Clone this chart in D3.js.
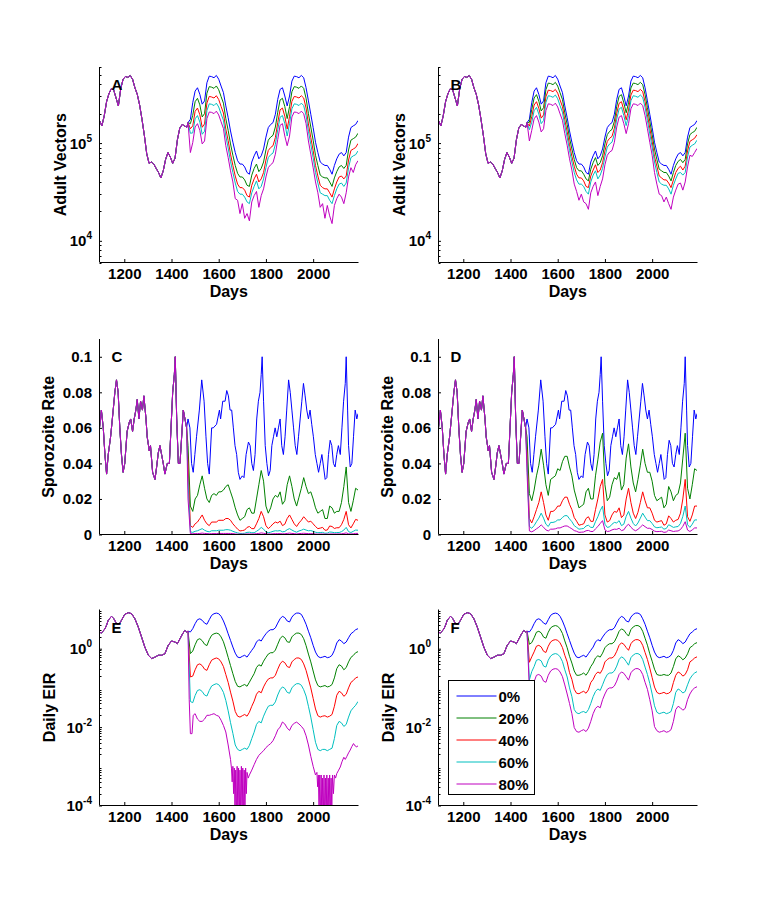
<!DOCTYPE html>
<html lang="en">
<head>
<meta charset="UTF-8">
<script src="https://d3js.org/d3.v7.min.js"></script>
<title>Vectors, sporozoite rate and EIR</title>
<style>
  body { margin: 0; background: #fff; }
</style>
</head>
<body>
<svg id="fig" width="769" height="904"></svg>
<script>
const FONT = '"Liberation Sans", Arial, Helvetica, sans-serif';

const seriesNames = ["0%", "20%", "40%", "60%", "80%"];
const seriesColors = ["#0000ff", "#008000", "#ff0000", "#00bfbf", "#bf00bf"];
const dayDomain = [1095, 2190];
const dayTicks = [1200, 1400, 1600, 1800, 2000];
const postDays = d3.range(1470, 2191, 10);

// ---- adult vectors (thousands) ----
const preDaysVectors = d3.range(1095, 1466, 10);
const preVectors = [170,150,190,265,320,360,350,290,240,360, 450,480,470,490,450,368,315,245,175,120,
  78,62,64,61,55,50,44,52,68,80, 72,62,70,108,142,155,150,145];
const blueVectors = [162,175,259,340,368,315,250,270,414,484, 478,466,492,450,383,328,240,182,133,102,
  80,66,61,61,57,50,48,64,74,83, 69,74,87,115,144,155,162,197,280,354,
  368,303,240,303,430,484,478,466,492,466, 368,270,197,144,102,80,64,61,59,59,
  54,48,59,69,77,80,74,80,115,144, 150,155,170];
const greenVectorsA = [162,158,192,265,287,246,185,200,323,378, 373,363,384,351,299,256,178,135,98,75,
  59,49,45,45,42,37,36,47,55,61, 51,55,64,85,107,115,120,146,207,276,
  287,236,178,236,335,378,373,363,384,363, 287,200,146,107,75,59,47,45,44,44,
  40,36,44,51,57,59,55,59,85,107, 111,115,126];
const redVectorsA = [162,140,150,211,228,195,145,157,257,300, 296,289,305,279,237,203,139,106,77,59,
  46,38,35,35,33,29,28,37,43,48, 40,43,50,67,84,90,94,114,162,219,
  228,188,139,188,267,300,296,289,305,289, 228,157,114,84,59,46,37,35,34,34,
  31,28,34,40,45,46,43,46,67,84, 87,90,99];
const cyanVectorsA = [162,126,127,177,191,164,123,132,215,252, 249,242,256,234,199,171,118,89,65,50,
  39,32,30,30,28,25,24,31,36,41, 34,36,43,56,71,76,79,97,137,184,
  191,158,118,158,224,252,249,242,256,242, 191,132,97,71,50,39,31,30,29,29,
  26,24,29,34,38,39,36,39,56,71, 74,76,83];
const magentaVectorsA = [162,80,101,146,158,135,98,105,178,208, 206,200,212,194,165,141,94,71,52,40,
  27,26,19,24,17,19,16,25,29,32, 22,29,34,45,56,60,63,77,109,152,
  158,118,94,118,185,208,206,200,212,200, 158,105,77,56,40,31,22,24,17,23,
  18,15,23,27,30,28,24,31,45,56, 50,60,66];
const greenVectorsB = [162,163,220,289,313,268,213,230,352,411, 406,396,418,383,326,279,204,155,113,87,
  68,56,52,52,48,43,41,54,63,71, 59,63,74,98,122,132,138,167,238,301,
  313,258,204,258,366,411,406,396,418,396, 313,230,167,122,87,68,54,52,50,50,
  46,41,50,59,65,68,63,68,98,122, 128,132,145];
const redVectorsB = [162,149,186,245,265,227,180,194,298,348, 344,336,354,324,276,236,173,131,96,73,
  58,48,44,44,41,36,35,46,53,60, 50,53,63,83,104,112,117,142,202,255,
  265,218,173,218,310,348,344,336,354,336, 265,194,142,104,73,58,46,44,42,42,
  39,35,42,50,55,58,53,58,83,104, 108,112,122];
const cyanVectorsB = [162,137,163,214,232,198,158,170,261,305, 301,294,310,284,241,207,151,115,84,64,
  50,42,38,38,36,32,30,40,47,52, 43,47,55,72,91,98,102,124,176,223,
  232,191,151,191,271,305,301,294,310,294, 232,170,124,91,64,50,40,38,37,37,
  34,30,37,43,49,50,47,50,72,91, 95,98,107];
const magentaVectorsB = [162,105,135,177,191,164,130,140,215,252, 249,242,256,234,199,171,125,95,69,53,
  38,32,26,30,25,24,21,31,36,40, 29,36,43,60,75,81,84,102,146,184,
  191,158,125,158,224,252,249,242,256,242, 191,140,102,75,50,38,30,29,25,28,
  24,21,28,33,38,39,33,40,57,75, 73,80,88];

// ---- sporozoite rate ----
const preRate = [[1095,0.060],[1103,0.070],[1111,0.060],[1118,0.045],[1125,0.034],[1132,0.045],[1142,0.055],
  [1153,0.070],[1160,0.080],[1167,0.087],[1174,0.080],[1181,0.060],[1188,0.045],[1195,0.035],[1202,0.040],
  [1212,0.058],[1221,0.063],[1227,0.065],[1235,0.058],[1242,0.065],[1249,0.070],[1255,0.076],[1262,0.065],
  [1269,0.075],[1277,0.070],[1283,0.078],[1292,0.065],[1297,0.055],[1306,0.047],[1311,0.050],[1320,0.035],
  [1330,0.031],[1337,0.038],[1344,0.046],[1351,0.050],[1358,0.045],[1365,0.040],[1372,0.034],[1382,0.040],
  [1391,0.040],[1398,0.060],[1405,0.080],[1412,0.090],[1416,0.100],[1422,0.065],[1429,0.040],[1436,0.040],
  [1443,0.055],[1450,0.070],[1457,0.065],[1464,0.060]];
const blueRate = [[1470,0.065],[1478,0.06],[1485,0.04],[1492,0.035],[1499,0.045],[1506,0.055],[1518,0.07],
  [1528,0.087],[1538,0.075],[1546,0.055],[1553,0.04],[1560,0.034],[1570,0.06],[1577,0.06],[1591,0.062],
  [1603,0.07],[1608,0.065],[1617,0.075],[1627,0.075],[1634,0.081],[1641,0.078],[1648,0.07],[1655,0.07],
  [1662,0.06],[1669,0.05],[1676,0.045],[1683,0.035],[1690,0.031],[1700,0.033],[1707,0.032],[1716,0.045],
  [1726,0.052],[1733,0.05],[1740,0.04],[1747,0.036],[1754,0.045],[1761,0.065],[1768,0.075],[1775,0.08],
  [1780,0.09],[1784,0.1],[1790,0.075],[1797,0.05],[1804,0.04],[1811,0.033],[1818,0.036],[1825,0.05],
  [1832,0.055],[1839,0.06],[1846,0.055],[1853,0.06],[1860,0.065],[1867,0.05],[1874,0.045],[1881,0.055],
  [1888,0.07],[1896,0.087],[1903,0.08],[1910,0.07],[1917,0.06],[1924,0.05],[1931,0.045],[1938,0.055],
  [1945,0.065],[1952,0.075],[1959,0.085],[1966,0.078],[1973,0.07],[1980,0.065],[1987,0.07],[1994,0.062],
  [2001,0.055],[2009,0.045],[2016,0.04],[2023,0.035],[2030,0.04],[2037,0.045],[2044,0.038],[2051,0.031],
  [2058,0.032],[2065,0.045],[2072,0.053],[2079,0.05],[2086,0.04],[2093,0.038],[2100,0.045],[2107,0.05],
  [2115,0.045],[2122,0.06],[2129,0.075],[2136,0.085],[2140,0.1],[2146,0.07],[2150,0.05],[2157,0.038],
  [2164,0.04],[2171,0.055],[2178,0.07],[2185,0.065],[2190,0.068]];
const greenRateC = [0.05,0.016,0.013,0.02,0.022,0.028,0.033,0.026,0.02,0.018,
  0.022,0.023,0.022,0.024,0.024,0.025,0.027,0.028,0.024,0.02,
  0.015,0.011,0.008,0.009,0.01,0.014,0.015,0.012,0.012,0.02,
  0.028,0.036,0.03,0.016,0.012,0.015,0.02,0.022,0.021,0.024,
  0.017,0.019,0.028,0.033,0.027,0.02,0.016,0.021,0.026,0.032,
  0.027,0.023,0.024,0.02,0.015,0.012,0.013,0.014,0.009,0.009,
  0.016,0.015,0.012,0.013,0.013,0.018,0.027,0.038,0.018,0.013,
  0.019,0.026,0.025];
const redRateC = [0.04,0.005,0.004,0.006,0.007,0.009,0.011,0.008,0.006,0.005,
  0.007,0.007,0.007,0.008,0.008,0.008,0.009,0.009,0.008,0.006,
  0.0045,0.003,0.002,0.0022,0.0025,0.004,0.0045,0.0033,0.0033,0.006,
  0.009,0.013,0.01,0.005,0.0033,0.0045,0.006,0.007,0.0065,0.0075,
  0.005,0.0058,0.009,0.011,0.0085,0.006,0.0045,0.0065,0.008,0.01,
  0.0085,0.007,0.0075,0.006,0.0045,0.0033,0.0036,0.004,0.0024,0.0025,
  0.0048,0.0045,0.0034,0.0038,0.0038,0.0055,0.0085,0.013,0.0055,0.0037,
  0.006,0.0085,0.008];
const cyanRateC = [0.03,0.0015,0.0012,0.0018,0.0021,0.0027,0.0033,0.0024,0.0018,0.0015,
  0.0021,0.0021,0.0021,0.0024,0.0024,0.0024,0.0027,0.0027,0.0024,0.0018,
  0.0013,0.0009,0.0006,0.0006,0.0007,0.0012,0.0013,0.001,0.001,0.0018,
  0.0027,0.004,0.003,0.0015,0.001,0.0013,0.0018,0.0021,0.002,0.0022,
  0.0015,0.0017,0.0027,0.0033,0.0025,0.0018,0.0013,0.002,0.0024,0.003,
  0.0025,0.0021,0.0022,0.0018,0.0013,0.001,0.0011,0.0012,0.0007,0.0008,
  0.0014,0.0013,0.001,0.0011,0.0011,0.0016,0.0025,0.004,0.0016,0.0011,
  0.0018,0.0025,0.0024];
const magentaRateC = [0.02,0.0005,0.0004,0.0005,0.0005,0.0006,0.0008,0.0006,0.0005,0.0004,
  0.0005,0.0005,0.0005,0.0006,0.0006,0.0006,0.0006,0.0006,0.0006,0.0005,
  0.0003,0.0002,0.0002,0.0002,0.0002,0.0003,0.0003,0.0003,0.0003,0.0005,
  0.0006,0.0009,0.0007,0.0004,0.0003,0.0003,0.0004,0.0005,0.0005,0.0005,
  0.0004,0.0004,0.0006,0.0008,0.0006,0.0005,0.0003,0.0005,0.0006,0.0007,
  0.0006,0.0005,0.0005,0.0004,0.0003,0.0002,0.0003,0.0003,0.0002,0.0002,
  0.0003,0.0003,0.0003,0.0003,0.0003,0.0004,0.0006,0.0009,0.0004,0.0003,
  0.0004,0.0006,0.0006];
const greenRateD = [0.055,0.023,0.019,0.025,0.033,0.039,0.048,0.039,0.028,0.022,
  0.031,0.032,0.033,0.037,0.036,0.041,0.044,0.044,0.038,0.033,
  0.025,0.02,0.015,0.016,0.017,0.024,0.026,0.02,0.02,0.033,
  0.042,0.052,0.057,0.028,0.019,0.021,0.028,0.032,0.031,0.035,
  0.025,0.028,0.043,0.051,0.038,0.029,0.024,0.031,0.039,0.048,
  0.04,0.035,0.035,0.03,0.022,0.019,0.02,0.021,0.015,0.017,
  0.027,0.024,0.019,0.022,0.023,0.029,0.043,0.057,0.026,0.02,
  0.028,0.037,0.036];
const redRateD = [0.045,0.009,0.0065,0.01,0.014,0.018,0.024,0.018,0.011,0.008,
  0.013,0.013,0.014,0.016,0.016,0.019,0.021,0.021,0.017,0.014,
  0.0095,0.0075,0.0052,0.0056,0.006,0.009,0.01,0.0074,0.0074,0.014,
  0.02,0.027,0.031,0.011,0.007,0.0078,0.011,0.013,0.0125,0.015,
  0.0095,0.011,0.02,0.026,0.018,0.012,0.009,0.0125,0.018,0.024,
  0.019,0.015,0.015,0.012,0.008,0.007,0.0074,0.0078,0.0052,0.006,
  0.0105,0.009,0.007,0.008,0.0085,0.012,0.02,0.031,0.01,0.0074,
  0.011,0.016,0.016];
const cyanRateD = [0.04,0.0045,0.0035,0.005,0.0072,0.0092,0.012,0.0092,0.0058,0.0045,
  0.0068,0.0068,0.0072,0.0082,0.0082,0.0096,0.0106,0.0106,0.0088,0.0072,
  0.005,0.004,0.003,0.0032,0.0034,0.0048,0.0052,0.004,0.004,0.0072,
  0.01,0.0135,0.016,0.0058,0.004,0.0043,0.0058,0.0068,0.0065,0.0078,
  0.005,0.0058,0.0102,0.013,0.0092,0.0062,0.0048,0.0065,0.0092,0.012,
  0.0098,0.0078,0.0078,0.0062,0.0043,0.0038,0.004,0.0042,0.003,0.0034,
  0.0055,0.0048,0.004,0.0043,0.0045,0.0062,0.0102,0.016,0.0055,0.004,
  0.0058,0.0082,0.0082];
const magentaRateD = [0.035,0.002,0.0015,0.0022,0.0032,0.0041,0.0054,0.0041,0.0026,0.002,
  0.003,0.003,0.0032,0.0037,0.0037,0.0043,0.0048,0.0048,0.004,0.0032,
  0.0022,0.0018,0.0012,0.0013,0.0014,0.0021,0.0023,0.0017,0.0017,0.0032,
  0.0045,0.0062,0.0078,0.0026,0.0017,0.0019,0.0026,0.003,0.0029,0.0035,
  0.0022,0.0026,0.0046,0.0058,0.0041,0.0028,0.0021,0.0029,0.0041,0.0054,
  0.0044,0.0035,0.0035,0.0028,0.0019,0.0016,0.0017,0.0018,0.0012,0.0014,
  0.0025,0.0021,0.0017,0.0019,0.002,0.0028,0.0046,0.0072,0.0025,0.0017,
  0.0026,0.0037,0.0037];

// ---- daily EIR ----
const preEIR = [[1095,2.67],[1103,2.5],[1110,2.8],[1118,3.2],[1125,4.0],[1132,5.3],[1139,6.0],[1146,6.7],
  [1156,5.8],[1167,4.35],[1178,4.2],[1188,5.3],[1202,7.5],[1217,8.3],[1231,7.8],[1245,5.8],[1259,3.6],
  [1273,2.0],[1287,1.1],[1302,0.68],[1316,0.56],[1330,0.61],[1344,0.68],[1358,0.68],[1372,0.745],
  [1386,1.22],[1400,1.57],[1415,1.48],[1425,1.34],[1436,1.8],[1447,2.4],[1457,2.94],[1464,2.67]];
const blueEIR = [2.8,2.67,3.24,4.35,5.5,5.8,5.3,4.5,4.2,5.5,
  7.1,7.8,8.1,7.8,6.7,5.1,3.6,2.4,1.63,1.1,
  0.77,0.61,0.59,0.64,0.68,0.61,0.745,0.91,1.1,1.48,
  1.7,1.57,1.98,2.4,2.8,3.05,3.05,3.4,4.5,5.8,
  6.7,6.2,5.1,4.8,6.4,7.5,8.1,8.1,7.5,5.8,
  4.2,2.8,1.9,1.22,0.82,0.64,0.59,0.61,0.64,0.59,
  0.61,0.68,0.91,1.4,1.7,1.57,1.34,1.48,1.9,2.4,
  2.67,3.05,3.24];
const greenEIR_E = [2.8,0.75,0.87,1.26,1.7,1.8,1.6,1.3,1.2,1.7,
  2.2,2.4,2.5,2.4,2.0,1.5,0.97,0.6,0.37,0.23,
  0.146,0.11,0.106,0.115,0.122,0.11,0.14,0.18,0.23,0.33,
  0.39,0.36,0.48,0.6,0.73,0.79,0.79,0.92,1.3,1.8,
  2.1,1.9,1.5,1.45,2.0,2.3,2.5,2.5,2.3,1.8,
  1.2,0.73,0.46,0.27,0.16,0.115,0.106,0.11,0.115,0.106,
  0.11,0.122,0.18,0.31,0.39,0.36,0.29,0.33,0.46,0.6,
  0.67,0.79,0.84];
const redEIR_E = [2.8,0.19,0.2,0.29,0.39,0.41,0.37,0.3,0.28,0.39,
  0.51,0.55,0.58,0.55,0.46,0.35,0.22,0.138,0.078,0.046,
  0.025,0.019,0.018,0.0195,0.021,0.019,0.024,0.034,0.046,0.069,
  0.082,0.075,0.106,0.138,0.168,0.18,0.18,0.21,0.3,0.41,
  0.48,0.44,0.35,0.33,0.46,0.53,0.58,0.58,0.53,0.41,
  0.28,0.168,0.1,0.054,0.029,0.0195,0.018,0.019,0.0195,0.018,
  0.019,0.021,0.034,0.065,0.082,0.075,0.061,0.069,0.1,0.138,
  0.154,0.18,0.19];
const cyanEIR_E = [2.8,0.045,0.042,0.064,0.086,0.09,0.081,0.066,0.062,0.086,
  0.112,0.121,0.128,0.121,0.1,0.077,0.048,0.026,0.013,0.0069,
  0.0035,0.0027,0.0025,0.0027,0.0029,0.0027,0.0034,0.0051,0.0074,0.0117,
  0.014,0.0128,0.019,0.026,0.034,0.036,0.036,0.044,0.066,0.09,
  0.106,0.097,0.077,0.073,0.1,0.117,0.128,0.128,0.117,0.09,
  0.062,0.034,0.018,0.0086,0.0041,0.0027,0.0025,0.0027,0.0027,0.0025,
  0.0027,0.0029,0.0051,0.011,0.014,0.0128,0.0104,0.0117,0.018,0.026,
  0.031,0.036,0.045];
const magentaEIR_E = [[1470,2.8],[1475,0.05],[1480,0.0068],[1487,0.0068],[1492,0.02],[1500,0.022],[1510,0.016],
  [1520,0.014],[1530,0.014],[1540,0.016],[1550,0.02],[1560,0.02],[1570,0.021],[1580,0.022],[1590,0.02],
  [1600,0.019],[1610,0.015],[1620,0.011],[1630,0.0075],[1640,0.0035],[1650,0.0015],[1654,0.0009],
  [1657,0.0004],[1660,0.001],[1663,0.0002],[1666,0.0009],[1669,0.00006],[1672,0.0008],[1675,0.00004],
  [1678,0.001],[1681,0.00005],[1684,0.0009],[1687,0.00003],[1690,0.0008],[1693,0.00004],[1696,0.001],
  [1699,0.00005],[1702,0.0009],[1705,0.00004],[1708,0.0008],[1711,0.00006],[1714,0.0009],[1717,0.0002],
  [1720,0.0007],[1725,0.0005],[1730,0.0006],[1740,0.0008],[1750,0.0011],[1760,0.0015],[1770,0.0019],
  [1780,0.0022],[1790,0.0025],[1800,0.003],[1810,0.0034],[1820,0.0038],[1830,0.0045],[1840,0.006],
  [1850,0.0085],[1860,0.01],[1870,0.0135],[1880,0.012],[1890,0.0095],[1900,0.0082],[1910,0.011],
  [1920,0.0125],[1930,0.0134],[1940,0.012],[1950,0.0105],[1960,0.0088],[1970,0.006],[1980,0.0035],
  [1990,0.0018],[2000,0.001],[2010,0.0006],[2016,0.0007],[2019,0.0003],[2022,0.0006],[2025,0.00008],
  [2028,0.0006],[2031,0.00004],[2034,0.0006],[2037,0.00003],[2040,0.0005],[2043,0.00004],[2046,0.0006],
  [2049,0.00003],[2052,0.0005],[2055,0.00004],[2058,0.0006],[2061,0.00005],[2064,0.0005],[2067,0.00004],
  [2070,0.0006],[2073,0.00005],[2076,0.0005],[2079,0.00008],[2082,0.0006],[2086,0.0002],[2090,0.0006],
  [2095,0.0005],[2100,0.00065],[2108,0.0008],[2115,0.00096],[2122,0.0013],[2130,0.0017],[2136,0.0015],
  [2143,0.0018],[2150,0.0022],[2157,0.0026],[2164,0.0032],[2171,0.0038],[2178,0.0033],[2185,0.0031],
  [2190,0.0034]];
const greenEIR_F = [2.8,1.3,1.43,1.9,2.64,2.78,2.54,1.98,1.85,2.64,
  3.4,3.74,3.89,3.74,3.2,2.45,1.58,1.06,0.64,0.43,
  0.27,0.21,0.21,0.22,0.24,0.21,0.26,0.35,0.43,0.58,
  0.66,0.61,0.77,1.06,1.23,1.34,1.34,1.5,1.98,2.78,
  3.2,2.98,2.45,2.1,3.07,3.6,3.89,3.89,3.6,2.78,
  1.85,1.23,0.74,0.48,0.3,0.22,0.21,0.21,0.22,0.21,
  0.21,0.24,0.35,0.55,0.66,0.61,0.52,0.58,0.74,1.06,
  1.17,1.34,1.43];
const redEIR_F = [2.8,0.45,0.62,0.83,1.16,1.22,1.11,0.86,0.8,1.16,
  1.49,1.64,1.7,1.64,1.41,1.07,0.68,0.46,0.245,0.165,
  0.092,0.073,0.071,0.077,0.082,0.073,0.089,0.137,0.165,0.22,
  0.255,0.235,0.3,0.46,0.53,0.58,0.58,0.65,0.86,1.22,
  1.41,1.3,1.07,0.91,1.34,1.58,1.7,1.7,1.58,1.22,
  0.8,0.53,0.32,0.183,0.105,0.077,0.071,0.073,0.077,0.071,
  0.073,0.082,0.137,0.21,0.255,0.235,0.2,0.22,0.29,0.46,
  0.51,0.58,0.62];
const cyanEIR_F = [2.8,0.16,0.26,0.35,0.51,0.53,0.49,0.36,0.34,0.51,
  0.65,0.72,0.75,0.72,0.62,0.47,0.29,0.19,0.1,0.06,
  0.028,0.023,0.022,0.024,0.025,0.023,0.028,0.04,0.06,0.081,
  0.094,0.086,0.12,0.17,0.22,0.24,0.24,0.27,0.36,0.53,
  0.62,0.57,0.47,0.38,0.59,0.69,0.75,0.75,0.69,0.53,
  0.34,0.22,0.13,0.07,0.035,0.024,0.022,0.023,0.024,0.022,
  0.023,0.025,0.04,0.077,0.094,0.086,0.074,0.081,0.12,0.17,
  0.21,0.24,0.26];
const magentaEIR_F = [2.8,0.09,0.107,0.144,0.21,0.22,0.2,0.149,0.139,0.21,
  0.27,0.3,0.31,0.3,0.255,0.194,0.119,0.07,0.04,0.022,
  0.0097,0.0077,0.0074,0.0081,0.0086,0.0077,0.0094,0.014,0.022,0.03,
  0.034,0.031,0.05,0.07,0.092,0.1,0.1,0.112,0.149,0.22,
  0.255,0.236,0.194,0.158,0.243,0.285,0.31,0.31,0.285,0.22,
  0.139,0.092,0.05,0.026,0.0103,0.0081,0.0074,0.0077,0.0081,0.0074,
  0.0077,0.0086,0.014,0.028,0.034,0.031,0.027,0.03,0.05,0.07,
  0.088,0.1,0.107];

const pairs = (days, vals) => days.map((d, i) => [d, vals[i]]);
const onGrid = vals => pairs(postDays, vals);

const rowSpecs = [
  { label: "Adult Vectors", log: true, domain: [6e3, 6e5], ticks: [1e4, 1e5], unit: 1000, labelGap: 34 },
  { label: "Sporozoite Rate", log: false, domain: [0, 0.11], ticks: [0, 0.02, 0.04, 0.06, 0.08, 0.1], unit: 1, labelGap: 46 },
  { label: "Daily EIR", log: true, domain: [1e-4, 10], ticks: [1e-4, 1e-2, 1], unit: 1, labelGap: 44.5 }
];

const preVectorPairs = pairs(preDaysVectors, preVectors);
const panels = [
  { tag: "A", row: 0, col: 0, pre: preVectorPairs,
    series: [onGrid(blueVectors), onGrid(greenVectorsA), onGrid(redVectorsA), onGrid(cyanVectorsA), onGrid(magentaVectorsA)] },
  { tag: "B", row: 0, col: 1, pre: preVectorPairs,
    series: [onGrid(blueVectors), onGrid(greenVectorsB), onGrid(redVectorsB), onGrid(cyanVectorsB), onGrid(magentaVectorsB)] },
  { tag: "C", row: 1, col: 0, pre: preRate,
    series: [blueRate, onGrid(greenRateC), onGrid(redRateC), onGrid(cyanRateC), onGrid(magentaRateC)] },
  { tag: "D", row: 1, col: 1, pre: preRate,
    series: [blueRate, onGrid(greenRateD), onGrid(redRateD), onGrid(cyanRateD), onGrid(magentaRateD)] },
  { tag: "E", row: 2, col: 0, pre: preEIR,
    series: [onGrid(blueEIR), onGrid(greenEIR_E), onGrid(redEIR_E), onGrid(cyanEIR_E), magentaEIR_E] },
  { tag: "F", row: 2, col: 1, pre: preEIR, legend: true,
    series: [onGrid(blueEIR), onGrid(greenEIR_F), onGrid(redEIR_F), onGrid(cyanEIR_F), onGrid(magentaEIR_F)] }
];

const svg = d3.select("#fig");
svg.append("rect").attr("width", 769).attr("height", 904).attr("fill", "#fff");

const colX = [99, 438];
const axW = 258.5;
const rowY = [[67, 262], [339, 534], [609.5, 805]];
const fs = 15;      // tick labels, legend
const fsLab = 16;   // axis labels

panels.forEach(p => {
  const spec = rowSpecs[p.row];
  const x0 = colX[p.col] + 0.5, x1 = x0 + axW;
  const [y0, y1] = rowY[p.row];
  const yb = y1 + 0.5;

  const x = d3.scaleLinear().domain(dayDomain).range([x0, x1]);
  const y = (spec.log ? d3.scaleLog() : d3.scaleLinear()).domain(spec.domain).range([yb, y0]);

  const g = svg.append("g");
  const clipId = "clip" + p.tag;
  svg.append("clipPath").attr("id", clipId)
    .append("rect").attr("x", x0).attr("y", y0).attr("width", x1 - x0).attr("height", yb - y0);

  const line = d3.line().x(d => x(d[0])).y(d => y(d[1] * spec.unit));
  p.series.forEach((s, i) => {
    g.append("path")
      .datum(p.pre.concat(s))
      .attr("clip-path", "url(#" + clipId + ")")
      .attr("fill", "none")
      .attr("stroke", seriesColors[i])
      .attr("stroke-width", 1)
      .attr("stroke-linejoin", "round")
      .attr("d", line);
  });

  // bottom axis
  const gx = g.append("g")
    .attr("transform", "translate(0," + y1 + ")")
    .call(d3.axisBottom(x).tickValues(dayTicks).tickFormat(d => d)
      .tickSizeInner(-3).tickSizeOuter(0).tickPadding(6));
  gx.attr("font-family", FONT).attr("font-size", fs).attr("font-weight", "bold");

  // left axis
  const yAxis = d3.axisLeft(y).tickValues(spec.ticks).tickSizeInner(-3).tickSizeOuter(0).tickPadding(7);
  yAxis.tickFormat(spec.log ? () => "" : d => d);
  const gy = g.append("g")
    .attr("transform", "translate(" + colX[p.col] + ",0)")
    .call(yAxis);
  gy.attr("font-family", FONT).attr("font-size", fs).attr("font-weight", "bold");
  gy.select(".domain").attr("d", "M0.5," + yb + "V" + y0);

  if (spec.log) {
    gy.selectAll(".tick").each(function(d) {
      const t = d3.select(this).append("text")
        .attr("x", -7).attr("y", 5).attr("fill", "#000").attr("text-anchor", "end");
      t.append("tspan").text("10");
      t.append("tspan").attr("dy", -7).attr("font-size", 10).text(Math.round(Math.log10(d)));
    });
    // minor ticks
    const lo = Math.floor(Math.log10(spec.domain[0])), hi = Math.ceil(Math.log10(spec.domain[1]));
    const minor = [];
    for (let e = lo; e < hi; e++) {
      for (let k = 2; k <= 9; k++) {
        const v = k * Math.pow(10, e);
        if (v >= spec.domain[0] && v <= spec.domain[1]) minor.push(v);
      }
    }
    g.selectAll(null).data(minor).enter().append("line")
      .attr("x1", x0).attr("x2", x0 + 2)
      .attr("y1", d => Math.round(y(d)) + 0.5).attr("y2", d => Math.round(y(d)) + 0.5)
      .attr("stroke", "#000").attr("stroke-width", 1);
  }

  // axis labels
  g.append("text")
    .attr("x", (x0 + x1) / 2).attr("y", y1 + 35)
    .attr("text-anchor", "middle").attr("font-family", FONT)
    .attr("font-size", fsLab).attr("font-weight", "bold")
    .text("Days");
  g.append("text")
    .attr("transform", "translate(" + (x0 - spec.labelGap) + "," + ((y0 + yb) / 2) + ") rotate(-90)")
    .attr("text-anchor", "middle").attr("font-family", FONT)
    .attr("font-size", fsLab).attr("font-weight", "bold")
    .text(spec.label);

  // panel tag
  g.append("text")
    .attr("x", x0 + 12).attr("y", y0 + 23)
    .attr("font-family", FONT).attr("font-size", fs).attr("font-weight", "bold")
    .text(p.tag);

  if (p.legend) {
    const lg = g.append("g").attr("transform", "translate(" + (x0 + 10) + "," + (y0 + 71) + ")");
    lg.append("rect").attr("width", 86).attr("height", 114)
      .attr("fill", "#fff").attr("stroke", "#000").attr("stroke-width", 1);
    seriesNames.forEach((name, i) => {
      const ly = Math.round(15 + i * 21.9) + 0.5;
      lg.append("line").attr("x1", 8).attr("x2", 48).attr("y1", ly).attr("y2", ly)
        .attr("stroke", seriesColors[i]).attr("stroke-width", 1);
      lg.append("text").attr("x", 50).attr("y", ly + 5.5)
        .attr("font-family", FONT).attr("font-size", fs).attr("font-weight", "bold").text(name);
    });
  }
});
</script>
</body>
</html>
